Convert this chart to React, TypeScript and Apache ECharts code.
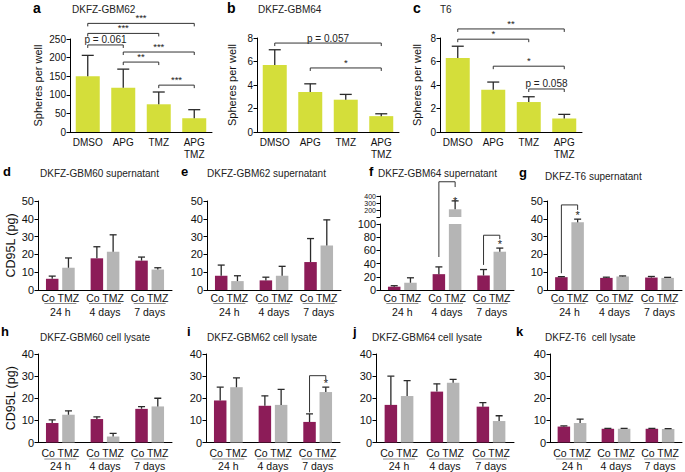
import React, { useEffect, useRef } from 'react';
import * as echarts from 'echarts';

const FONT = '"Liberation Sans", Arial, Helvetica, sans-serif';
const YG = '#d4de3a';
const PURPLE = '#8c1c58';
const GRAY = '#b5b5b5';
const INK = '#111';

// ---------- Row 1: spheres per well ----------
const sphereCats = ['DMSO', 'APG', 'TMZ', 'APG\nTMZ'];
const gbm62Spheres = [150, 119, 74.5, 37];
const gbm62SpheresErr = [56, 50, 33, 23];
const gbm64Spheres = [5.7, 3.4, 2.75, 1.35];
const gbm64SpheresErr = [1.3, 0.7, 0.45, 0.2];
const t6Spheres = [6.3, 3.6, 2.55, 1.15];
const t6SpheresErr = [1.0, 0.65, 0.45, 0.35];

// [from, to, level, label]
const gbm62SphereSig: any[] = [[0, 3, 292, '***'], [0, 2, 265, '***'], [0, 1, 234, 'p = 0.061'], [1, 3, 215, '***'], [1, 2, 188, '**'], [2, 3, 126, '***']];
const gbm64SphereSig: any[] = [[0, 3, 7.57, 'p = 0.057'], [1, 3, 5.45, '*']];
const t6SphereSig: any[] = [[0, 3, 8.77, '**'], [0, 2, 7.9, '*'], [1, 3, 5.6, '*'], [2, 3, 3.66, 'p = 0.058']];

// ---------- Rows 2-3: CD95L ----------
const timeCats = ['24 h', '4 days', '7 days'];
const treatments = ['Co', 'TMZ'];

const gbm60SupCo = [6.3, 17.8, 16.5];
const gbm60SupCoErr = [1.5, 6.5, 2];
const gbm60SupTmz = [12.5, 21.5, 11.5];
const gbm60SupTmzErr = [5.5, 9.5, 1];

const gbm62SupCo = [8, 5.4, 15.7];
const gbm62SupCoErr = [6, 1.8, 13.2];
const gbm62SupTmz = [5, 8, 25];
const gbm62SupTmzErr = [3, 5.3, 14.4];

const gbm64SupCo = [5, 24, 22];
const gbm64SupCoErr = [1.5, 11, 9];
const gbm64SupTmz = [11, 210, 58];
const gbm64SupTmzErr = [7.5, 120, 5.5];

const t6SupCo = [7.2, 6.8, 7];
const t6SupCoErr = [0.3, 0.4, 0.6];
const t6SupTmz = [38, 7.6, 6.8];
const t6SupTmzErr = [1.8, 0.3, 0.3];

const gbm60LysCo = [8.8, 10.6, 15.2];
const gbm60LysCoErr = [1.4, 1, 1];
const gbm60LysTmz = [12.5, 2.7, 16.3];
const gbm60LysTmzErr = [1.8, 1.4, 3.7];

const gbm62LysCo = [19, 16.6, 9.3];
const gbm62LysCoErr = [6, 4.5, 3.6];
const gbm62LysTmz = [25, 17, 22.8];
const gbm62LysTmzErr = [4.2, 7, 2.2];

const gbm64LysCo = [17, 23, 16.2];
const gbm64LysCoErr = [13, 3.5, 1.8];
const gbm64LysTmz = [21, 27, 9.7];
const gbm64LysTmzErr = [7, 1.5, 2.4];

const t6LysCo = [7.2, 6.2, 6.2];
const t6LysCoErr = [0.3, 0.2, 0.2];
const t6LysTmz = [8.8, 6.2, 6.1];
const t6LysTmzErr = [1.8, 0.2, 0.2];

// [group, bracketTop, leftEnd, rightEnd, starLevel]
const gbm64SupSig = [[1, 164, 50, 156, 135], [2, 83, 38, 77, 70]];
const t6SupSig = [[0, 47.8, 9.4, 45, 42]];
const gbm62LysSig = [[2, 30.2, 13.6, 28.4, 27]];

const panelLetters = ['a', 'b', 'c', 'd', 'e', 'f', 'g', 'h', 'i', 'j', 'k'];
const panelTitles = [
  'DKFZ-GBM62', 'DKFZ-GBM64', 'T6',
  'DKFZ-GBM60 supernatant', 'DKFZ-GBM62 supernatant', 'DKFZ-GBM64 supernatant', 'DKFZ-T6 supernatant',
  'DKFZ-GBM60 cell lysate', 'DKFZ-GBM62 cell lysate', 'DKFZ-GBM64 cell lysate', 'DKFZ-T6  cell lysate',
];

const BW = 12.5;
const GAP = 0.3;
const OFF = (BW * (1 + GAP)) / 2;

function errSeries(gi: number, vals: number[], errs: number[], offset: number, capW: number) {
  return {
    type: 'custom', xAxisIndex: gi, yAxisIndex: gi, z: 4, silent: true, clip: true,
    data: vals.map((v, i) => [i, v, errs[i]]),
    encode: { x: 0, y: 1 },
    renderItem: (_p: any, api: any) => {
      const i = api.value(0), v = api.value(1), e = api.value(2);
      const b = api.coord([i, v]);
      const t = api.coord([i, v + e]);
      const x = b[0] + offset;
      const st = { stroke: '#2a2a2a', lineWidth: 1.3 };
      return {
        type: 'group', children: [
          { type: 'line', shape: { x1: x, y1: b[1], x2: x, y2: t[1] }, style: st },
          { type: 'line', shape: { x1: x - capW / 2, y1: t[1], x2: x + capW / 2, y2: t[1] }, style: st },
        ],
      };
    },
  };
}

function sphereSigSeries(gi: number, sig: any[]) {
  return {
    type: 'custom', xAxisIndex: gi, yAxisIndex: gi, z: 5, silent: true,
    data: sig.map((s) => [s[0], s[2], s[1]]),
    encode: { x: 0, y: 1 },
    renderItem: (params: any, api: any) => {
      const from = api.value(0), lvl = api.value(1), to = api.value(2);
      const p1 = api.coord([from, lvl]);
      const p2 = api.coord([to, lvl]);
      const label = sig[params.dataIndex][3];
      const isP = String(label).startsWith('p');
      return {
        type: 'group', children: [
          { type: 'polyline', shape: { points: [[p1[0], p1[1] + 3], p1, p2, [p2[0], p2[1] + 3]] }, style: { stroke: '#333', lineWidth: 1, fill: null } },
          { type: 'text', x: (p1[0] + p2[0]) / 2, y: p1[1] - (isP ? 0 : 0.5), style: { text: label, align: 'center', verticalAlign: 'bottom', fontSize: isP ? 10 : 9.5, fontFamily: FONT, fill: '#222' } },
        ],
      };
    },
  };
}

function timeSigSeries(gi: number, sig: number[][]) {
  return {
    type: 'custom', xAxisIndex: gi, yAxisIndex: gi, z: 5, silent: true,
    data: sig.map((s) => [s[0], s[1], s[2], s[3], s[4]]),
    encode: { x: 0, y: 1 },
    renderItem: (_p: any, api: any) => {
      const g = api.value(0);
      const top = api.coord([g, api.value(1)]);
      const yl = api.coord([g, api.value(2)])[1];
      const yr = api.coord([g, api.value(3)])[1];
      const ys = api.coord([g, api.value(4)])[1];
      const xl = top[0] - OFF, xr = top[0] + OFF;
      return {
        type: 'group', children: [
          { type: 'polyline', shape: { points: [[xl, yl], [xl, top[1]], [xr, top[1]], [xr, yr]] }, style: { stroke: '#333', lineWidth: 1, fill: null } },
          { type: 'text', x: xr, y: ys, style: { text: '*', align: 'center', verticalAlign: 'middle', fontSize: 11, fontFamily: FONT, fill: '#222' } },
        ],
      };
    },
  };
}

function groupLineSeries(gi: number, lineOff: number) {
  return {
    type: 'custom', xAxisIndex: gi, yAxisIndex: gi, z: 5, silent: true,
    data: timeCats.map((_c, i) => [i, 0]),
    encode: { x: 0, y: 1 },
    renderItem: (_p: any, api: any) => {
      const p = api.coord([api.value(0), 0]);
      return { type: 'line', shape: { x1: p[0] - 16, y1: p[1] + lineOff, x2: p[0] + 16, y2: p[1] + lineOff }, style: { stroke: '#8a8a8a', lineWidth: 1 } };
    },
  };
}

function buildOption() {
  const grid: any[] = [], xAxis: any[] = [], yAxis: any[] = [], series: any[] = [];
  const axisLine = { show: true, onZero: false, lineStyle: { color: '#000', width: 1 } };
  const yTick = { show: true, length: 3.5, lineStyle: { color: '#000', width: 1 } };
  const addAxes = (g: any, x: any, y: any) => {
    const gi = grid.length;
    grid.push(g);
    xAxis.push({ gridIndex: gi, ...x });
    yAxis.push({ gridIndex: gi, ...y });
    return gi;
  };

  const spherePanels = [
    { pos: { left: 70, top: 39, width: 142, height: 93 }, max: 250, interval: 50, vals: gbm62Spheres, errs: gbm62SpheresErr, sig: gbm62SphereSig, nameGap: 27 },
    { pos: { left: 257, top: 38, width: 142, height: 94 }, max: 8, interval: 2, vals: gbm64Spheres, errs: gbm64SpheresErr, sig: gbm64SphereSig, nameGap: 20 },
    { pos: { left: 440, top: 38, width: 142, height: 94 }, max: 8, interval: 2, vals: t6Spheres, errs: t6SpheresErr, sig: t6SphereSig, nameGap: 18 },
  ];
  spherePanels.forEach((p) => {
    const gi = addAxes(
      p.pos,
      { type: 'category', data: sphereCats, axisLine, axisTick: { show: false }, axisLabel: { interval: 0, margin: 4, fontSize: 10, lineHeight: 12, color: INK, fontFamily: FONT } },
      {
        type: 'value', min: 0, max: p.max, interval: p.interval, name: 'Spheres per well', nameLocation: 'middle', nameRotate: 90, nameGap: p.nameGap,
        nameTextStyle: { fontSize: 11, fontFamily: FONT, color: INK }, axisLine, axisTick: yTick, splitLine: { show: false },
        axisLabel: { margin: 4, fontSize: 10, color: INK, fontFamily: FONT },
      },
    );
    series.push({ type: 'bar', xAxisIndex: gi, yAxisIndex: gi, data: p.vals, barWidth: 24, clip: true, silent: true, itemStyle: { color: YG } });
    series.push(errSeries(gi, p.vals, p.errs, 0, 12));
    series.push(sphereSigSeries(gi, p.sig));
  });

  const timePanels: any[] = [
    { pos: { left: 38, top: 201, width: 134, height: 89 }, max: 50, interval: 10, co: gbm60SupCo, coErr: gbm60SupCoErr, tmz: gbm60SupTmz, tmzErr: gbm60SupTmzErr, sig: [], yName: 'CD95L (pg)', row: 2 },
    { pos: { left: 207, top: 201, width: 134, height: 89 }, max: 50, interval: 10, co: gbm62SupCo, coErr: gbm62SupCoErr, tmz: gbm62SupTmz, tmzErr: gbm62SupTmzErr, sig: [], row: 2 },
    { pos: { left: 380, top: 224, width: 134, height: 66 }, max: 100, interval: 20, co: gbm64SupCo, coErr: gbm64SupCoErr, tmz: gbm64SupTmz, tmzErr: gbm64SupTmzErr, sig: gbm64SupSig, row: 2, broken: { top: 196, height: 21, min: 100, max: 400, interval: 100 } },
    { pos: { left: 547, top: 201, width: 135, height: 89 }, max: 50, interval: 10, co: t6SupCo, coErr: t6SupCoErr, tmz: t6SupTmz, tmzErr: t6SupTmzErr, sig: t6SupSig, row: 2 },
    { pos: { left: 38, top: 354, width: 134, height: 90 }, max: 40, interval: 10, co: gbm60LysCo, coErr: gbm60LysCoErr, tmz: gbm60LysTmz, tmzErr: gbm60LysTmzErr, sig: [], yName: 'CD95L (pg)', row: 3 },
    { pos: { left: 206, top: 354, width: 134, height: 90 }, max: 40, interval: 10, co: gbm62LysCo, coErr: gbm62LysCoErr, tmz: gbm62LysTmz, tmzErr: gbm62LysTmzErr, sig: gbm62LysSig, row: 3 },
    { pos: { left: 376, top: 354, width: 138, height: 90 }, max: 40, interval: 10, co: gbm64LysCo, coErr: gbm64LysCoErr, tmz: gbm64LysTmz, tmzErr: gbm64LysTmzErr, sig: [], row: 3 },
    { pos: { left: 550, top: 354, width: 132, height: 90 }, max: 40, interval: 10, co: t6LysCo, coErr: t6LysCoErr, tmz: t6LysTmz, tmzErr: t6LysTmzErr, sig: [], row: 3 },
  ];

  const addTimeSeries = (gi: number, p: any) => {
    series.push({ type: 'bar', xAxisIndex: gi, yAxisIndex: gi, data: p.co, barWidth: BW, barGap: GAP * 100 + '%', clip: true, silent: true, itemStyle: { color: PURPLE } });
    series.push({ type: 'bar', xAxisIndex: gi, yAxisIndex: gi, data: p.tmz, barWidth: BW, barGap: GAP * 100 + '%', clip: true, silent: true, itemStyle: { color: GRAY } });
    series.push(errSeries(gi, p.co, p.coErr, -OFF, 7));
    series.push(errSeries(gi, p.tmz, p.tmzErr, OFF, 7));
  };

  timePanels.forEach((p) => {
    const r = p.row === 2 ? { margin: 0.5, lh: 14, lineOff: 13.5 } : { margin: 3.5, lh: 13, lineOff: 16.5 };
    const gi = addAxes(
      p.pos,
      {
        type: 'category', data: timeCats, axisLine, axisTick: { show: false },
        axisLabel: { interval: 0, margin: r.margin, lineHeight: r.lh, fontSize: 10.5, color: INK, fontFamily: FONT, formatter: (v: string) => `${treatments.join(' ')}\n${v}` },
      },
      {
        type: 'value', min: 0, max: p.max, interval: p.interval, name: p.yName, nameLocation: 'middle', nameRotate: 90, nameGap: 16,
        nameTextStyle: { fontSize: 12.5, fontFamily: FONT, color: INK }, axisLine, axisTick: yTick, splitLine: { show: false },
        axisLabel: { margin: 4, fontSize: 11, color: INK, fontFamily: FONT },
      },
    );
    addTimeSeries(gi, p);
    series.push(groupLineSeries(gi, r.lineOff));
    if (p.sig.length) series.push(timeSigSeries(gi, p.sig));
    if (p.broken) {
      const b = p.broken;
      const gu = addAxes(
        { left: p.pos.left, top: b.top, width: p.pos.width, height: b.height },
        { type: 'category', data: timeCats, show: false },
        {
          type: 'value', min: b.min, max: b.max, interval: b.interval, axisLine, axisTick: yTick, splitLine: { show: false },
          axisLabel: { margin: 4, fontSize: 7, lineHeight: 6, showMaxLabel: true, showMinLabel: true, color: INK, fontFamily: FONT, formatter: (v: number) => (v >= 200 ? String(v) : '') },
        },
      );
      addTimeSeries(gu, p);
    }
  });

  const letterPos = [[33, 1], [227, 1], [413, 1], [3, 165], [181, 165], [369, 165], [519, 166], [1, 325], [187, 325], [353, 325], [516, 325]];
  const titlePos = [[72, 4], [258, 4], [440, 4], [40, 168], [207, 168], [378, 168], [545, 171], [40, 332], [207, 332], [372, 332], [545, 332]];
  const title: any[] = [];
  panelLetters.forEach((l, i) => {
    title.push({ text: l, left: letterPos[i][0], top: letterPos[i][1], padding: 0, textStyle: { fontSize: i < 3 ? 14 : 13, fontWeight: 'bold', fontFamily: FONT, color: '#000' } });
  });
  panelTitles.forEach((t, i) => {
    title.push({ text: t, left: titlePos[i][0], top: titlePos[i][1], padding: 0, textStyle: { fontSize: 10, fontWeight: 'normal', fontFamily: FONT, color: '#222' } });
  });

  return { animation: false, backgroundColor: '#fff', title, grid, xAxis, yAxis, series };
}

export default function App() {
  const ref = useRef<HTMLDivElement>(null);
  useEffect(() => {
    const chart = echarts.init(ref.current!, null, { renderer: 'svg' });
    chart.setOption(buildOption() as any);
    return () => chart.dispose();
  }, []);
  return <div ref={ref} style={{ position: 'fixed', left: 0, top: 0, width: 685, height: 472 }} />;
}
